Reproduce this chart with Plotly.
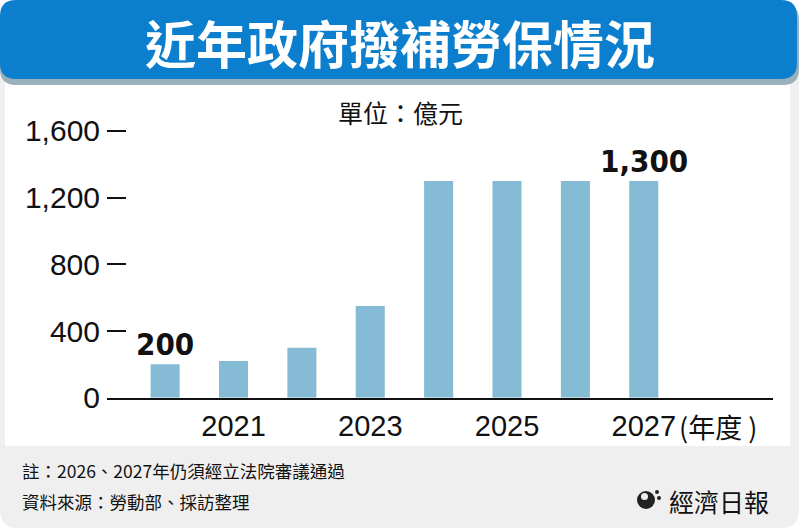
import plotly.graph_objects as go

# ---- data ----
years = [2020, 2021, 2022, 2023, 2024, 2025, 2026, 2027]
values = [200, 220, 300, 550, 1300, 1300, 1300, 1300]
x_tick_vals = [2021, 2023, 2025, 2027]
x_tick_text = ["2021", "2023", "2025", "2027"]
y_tick_vals = [0, 400, 800, 1200, 1600]
label_years = [2020, 2027]
label_values = [200, 1300]
label_texts = ["200", "1,300"]

title_text = "近年政府撥補勞保情況"
unit_text = "單位：億元"
year_unit = "(年度 )"
note_text = "註：2026、2027年仍須經立法院審議通過"
source_text = "資料來源：勞動部、採訪整理"
brand_text = "經濟日報"

W, H = 799, 528
CJK = "Noto Sans CJK TC"
LAT = "Liberation Sans, Arial, sans-serif"


def px(x):
    return x / W


def py(y):
    return 1 - y / H


def rrect(x0, y0, x1, y1, r_tl, r_tr, r_br, r_bl):
    def P(x, y):
        return f"{px(x)},{py(y)}"
    p = f"M {P(x0 + r_tl, y0)} L {P(x1 - r_tr, y0)} "
    p += f"Q {P(x1, y0)} {P(x1, y0 + r_tr)} " if r_tr else ""
    p += f"L {P(x1, y1 - r_br)} "
    p += f"Q {P(x1, y1)} {P(x1 - r_br, y1)} " if r_br else ""
    p += f"L {P(x0 + r_bl, y1)} "
    p += f"Q {P(x0, y1)} {P(x0, y1 - r_bl)} " if r_bl else ""
    p += f"L {P(x0, y0 + r_tl)} "
    p += f"Q {P(x0, y0)} {P(x0 + r_tl, y0)} " if r_tl else ""
    return p + "Z"


fig = go.Figure()
fig.add_trace(go.Bar(
    x=years, y=values,
    marker=dict(color="#86bbd6", line=dict(width=0)),
    hoverinfo="skip",
))

shapes = [
    dict(type="rect", xref="paper", yref="paper", x0=0, x1=px(5), y0=py(446), y1=py(70),
         fillcolor="#f0f0f0", line=dict(width=0), layer="below"),
    dict(type="rect", xref="paper", yref="paper", x0=px(790), x1=1, y0=py(446), y1=py(70),
         fillcolor="#f0f0f0", line=dict(width=0), layer="below"),
    dict(type="path", xref="paper", yref="paper", path=rrect(0, 446, 799, 528, 0, 0, 18, 18),
         fillcolor="#efefef", line=dict(width=0), layer="below"),
    dict(type="path", xref="paper", yref="paper", path=rrect(0, 4, 799, 85, 16, 16, 16, 16),
         fillcolor="#9ab0bd", line=dict(width=0), layer="below"),
    dict(type="path", xref="paper", yref="paper", path=rrect(0, 0, 797, 79, 16, 16, 16, 16),
         fillcolor="#0b7ecd", line=dict(width=0), layer="below"),
    # logo approximation
    dict(type="circle", xref="paper", yref="paper", x0=px(637), x1=px(655), y0=py(509), y1=py(491),
         fillcolor="#222222", line=dict(width=0)),
    dict(type="circle", xref="paper", yref="paper", x0=px(641), x1=px(648), y0=py(500), y1=py(493),
         fillcolor="#efefef", line=dict(width=0)),
    dict(type="circle", xref="paper", yref="paper", x0=px(655), x1=px(659), y0=py(494), y1=py(490),
         fillcolor="#222222", line=dict(width=0)),
    dict(type="circle", xref="paper", yref="paper", x0=px(657), x1=px(661), y0=py(500), y1=py(496),
         fillcolor="#222222", line=dict(width=0)),
]

annotations = [
    dict(text=f"<b>{title_text}</b>", x=px(400), y=py(42), xref="paper", yref="paper",
         showarrow=False, font=dict(family=CJK, size=51, color="white"), xanchor="center", yanchor="middle"),
    dict(text=unit_text, x=px(400), y=py(112), xref="paper", yref="paper",
         showarrow=False, font=dict(family=CJK, size=25, color="#111111"), xanchor="center", yanchor="middle"),
    dict(text=year_unit, x=px(677), y=py(426), xref="paper", yref="paper",
         showarrow=False, font=dict(family=CJK, size=27, color="#111111"), xanchor="left", yanchor="middle"),
    dict(text=note_text, x=px(20), y=py(470), xref="paper", yref="paper",
         showarrow=False, font=dict(family=CJK, size=17.5, color="#111111"), xanchor="left", yanchor="middle"),
    dict(text=source_text, x=px(20), y=py(501), xref="paper", yref="paper",
         showarrow=False, font=dict(family=CJK, size=17.5, color="#111111"), xanchor="left", yanchor="middle"),
    dict(text=brand_text, x=px(667), y=py(501), xref="paper", yref="paper",
         showarrow=False, font=dict(family=CJK, size=25, color="#111111"), xanchor="left", yanchor="middle"),
]
for yr, v, t in zip(label_years, label_values, label_texts):
    annotations.append(dict(text=f"<b>{t}</b>", x=yr, y=v, xref="x", yref="y",
                            showarrow=False, yanchor="bottom", yshift=0,
                            font=dict(family="Liberation Sans Narrow, DejaVu Sans Condensed, Arial", size=31, color="#111111")))

fig.update_layout(
    width=W, height=H,
    margin=dict(l=0, r=0, t=0, b=0, pad=0),
    paper_bgcolor="white", plot_bgcolor="rgba(0,0,0,0)",
    showlegend=False,
    bargap=0.575,
    shapes=shapes,
    annotations=annotations,
    xaxis=dict(
        domain=[px(107), px(773)], range=[2019.15, 2028.89],
        tickmode="array", tickvals=x_tick_vals, ticktext=x_tick_text,
        showline=True, linecolor="#111111", linewidth=2, ticks="",
        showgrid=False, zeroline=False, automargin=False,
        tickfont=dict(family=LAT, size=29, color="#111111"),
        ticklabelstandoff=1,
    ),
    yaxis=dict(
        domain=[py(397.7), py(114.3)], range=[0, 1700],
        tickmode="array", tickvals=y_tick_vals,
        tickformat=",", ticks="inside", ticklen=19, tickwidth=1.5, tickcolor="#111111",
        showline=False, showgrid=False, zeroline=False, automargin=False,
        tickfont=dict(family=LAT, size=30, color="#111111"),
        ticklabelstandoff=6,
    ),
)

fig.write_html("out.html", config={"displayModeBar": False},
               post_script="document.body.style.margin='0px';")
